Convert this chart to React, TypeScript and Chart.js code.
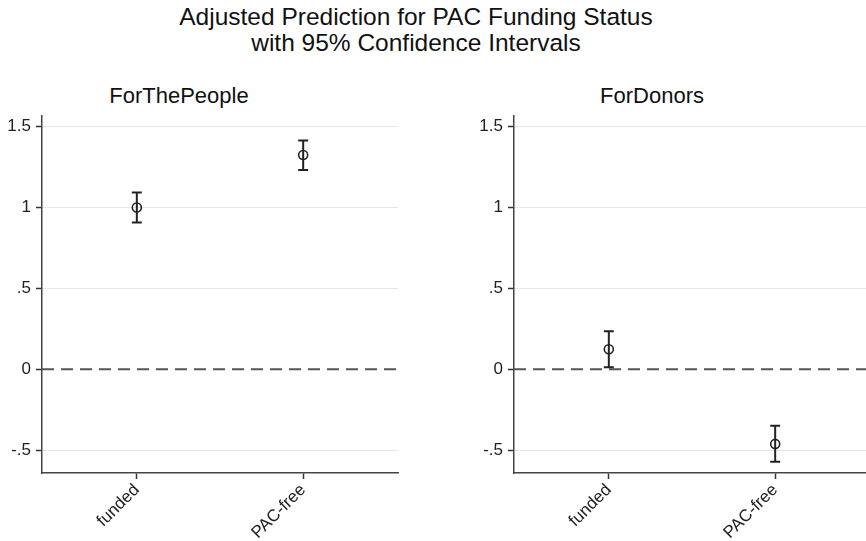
import React, { useEffect, useRef } from "react";
import { Chart, registerables } from "chart.js";

Chart.register(...registerables);

const categories = ["funded", "PAC-free"];
const xPositions = [1, 2];
const yTicks = [-0.5, 0, 0.5, 1, 1.5];

const peopleEst = [1.0, 1.325];
const peopleLo = [0.907, 1.232];
const peopleHi = [1.093, 1.415];

const donorsEst = [0.124, -0.461];
const donorsLo = [0.012, -0.572];
const donorsHi = [0.236, -0.349];

const X_MIN = 0.43;
const X_MAX = 2.57;
const Y_MIN = -0.641;
const Y_MAX = 1.566;

const FONT = "'Liberation Sans', Arial, Helvetica, sans-serif";

const fmtY = (v: number) => {
  if (v === 0) return "0";
  return String(v).replace(/^(-?)0\./, "$1.");
};

function Panel(props: { est: number[]; lo: number[]; hi: number[]; left: number }) {
  const ref = useRef<HTMLCanvasElement | null>(null);
  useEffect(() => {
    const canvas = ref.current!;
    const { est, lo, hi } = props;
    const errorBars = {
      id: "errorBars",
      afterDatasetsDraw(chart: any) {
        const xs = chart.scales.x;
        const ys = chart.scales.y;
        const c = chart.ctx;
        c.save();
        c.strokeStyle = "#222";
        c.lineWidth = 2;
        for (let i = 0; i < est.length; i++) {
          const px = xs.getPixelForValue(xPositions[i]);
          const pLo = ys.getPixelForValue(lo[i]);
          const pHi = ys.getPixelForValue(hi[i]);
          c.beginPath();
          c.moveTo(px, pLo);
          c.lineTo(px, pHi);
          c.moveTo(px - 5, pLo);
          c.lineTo(px + 5, pLo);
          c.moveTo(px - 5, pHi);
          c.lineTo(px + 5, pHi);
          c.stroke();
        }
        c.restore();
      },
    };
    const chart = new Chart(canvas, {
      type: "scatter",
      data: {
        datasets: [
          {
            type: "line",
            data: [
              { x: X_MIN, y: 0 },
              { x: X_MAX, y: 0 },
            ],
            borderColor: "#555",
            borderWidth: 2,
            borderDash: [12, 7],
            pointRadius: 0,
            fill: false,
          } as any,
          {
            data: est.map((v, i) => ({ x: xPositions[i], y: v })),
            pointStyle: "circle",
            pointRadius: 4.5,
            pointBorderWidth: 1.6,
            pointBackgroundColor: "rgba(0,0,0,0)",
            pointBorderColor: "#222",
          },
        ],
      },
      options: {
        animation: false,
        responsive: false,
        devicePixelRatio: 1,
        layout: { autoPadding: false, padding: { left: 0, top: 16, right: 22, bottom: 0 } },
        plugins: { legend: { display: false }, tooltip: { enabled: false }, title: { display: false } },
        scales: {
          x: {
            type: "linear",
            min: X_MIN,
            max: X_MAX,
            afterBuildTicks: (s: any) => {
              s.ticks = xPositions.map((v) => ({ value: v }));
            },
            afterFit: (s: any) => {
              s.height = 68;
            },
            ticks: {
              callback: (v: any) => categories[xPositions.indexOf(Number(v))] ?? "",
              minRotation: 45,
              maxRotation: 45,
              autoSkip: false,
              padding: 1,
              color: "#222",
              font: { family: FONT, size: 17 },
            },
            grid: { drawOnChartArea: false, tickColor: "#333", tickLength: 6, tickWidth: 1.5 },
            border: { color: "#444", width: 1.5 },
          },
          y: {
            type: "linear",
            min: Y_MIN,
            max: Y_MAX,
            afterBuildTicks: (s: any) => {
              s.ticks = yTicks.map((v) => ({ value: v }));
            },
            afterFit: (s: any) => {
              s.width = 42;
            },
            ticks: {
              callback: (v: any) => fmtY(Number(v)),
              padding: 5,
              color: "#222",
              font: { family: FONT, size: 17 },
            },
            grid: {
              color: (ctx: any) => (ctx.tick && ctx.tick.value === 0 ? "rgba(0,0,0,0)" : "#e6e6e6"),
              lineWidth: 1,
              tickColor: "#333",
              tickLength: 6,
              tickWidth: 1.5,
            },
            border: { color: "#444", width: 1.5 },
          },
        },
      },
      plugins: [errorBars],
    });
    return () => chart.destroy();
  }, []);
  return (
    <canvas
      ref={ref}
      width={420}
      height={441}
      style={{ position: "absolute", left: props.left, top: 100, width: 420, height: 441 }}
    />
  );
}

const titleStyle: React.CSSProperties = {
  position: "absolute",
  textAlign: "center",
  fontFamily: FONT,
  color: "#111",
  whiteSpace: "nowrap",
  lineHeight: 1,
};

export default function App() {
  return (
    <div
      style={{
        position: "fixed",
        left: 0,
        top: 0,
        width: 866,
        height: 541,
        overflow: "hidden",
        background: "#fff",
      }}
    >
      <div style={{ ...titleStyle, left: 116, width: 600, top: 5, fontSize: 24.5 }}>
        Adjusted Prediction for PAC Funding Status
      </div>
      <div style={{ ...titleStyle, left: 116, width: 600, top: 31, fontSize: 24.5 }}>
        with 95% Confidence Intervals
      </div>
      <div style={{ ...titleStyle, left: 29, width: 300, top: 85, fontSize: 22 }}>ForThePeople</div>
      <div style={{ ...titleStyle, left: 502, width: 300, top: 85, fontSize: 22 }}>ForDonors</div>
      <Panel est={peopleEst} lo={peopleLo} hi={peopleHi} left={0} />
      <Panel est={donorsEst} lo={donorsLo} hi={donorsHi} left={472} />
    </div>
  );
}
